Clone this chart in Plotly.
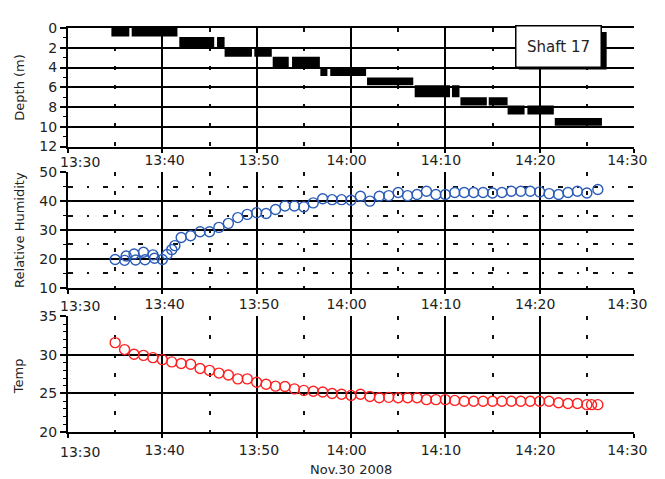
import plotly.graph_objects as go

DAY = "2008-11-30 "

# ---- depth record (black bars): time span and depth span (m) ----
depth_start = ["13:34:36", "13:36:45", "13:41:48", "13:45:48", "13:46:36", "13:49:45",
               "13:51:42", "13:53:45", "13:56:45", "13:57:48", "14:01:42", "14:06:45",
               "14:10:42", "14:11:36", "14:14:36", "14:16:36", "14:18:42", "14:21:36"]
depth_end = ["13:36:30", "13:41:36", "13:45:30", "13:46:36", "13:49:30", "13:51:36",
             "13:53:24", "13:56:42", "13:57:30", "14:01:36", "14:06:36", "14:10:30",
             "14:11:30", "14:14:24", "14:16:36", "14:18:24", "14:21:30", "14:26:36"]
depth_top = [0, 0, 0.9, 0.9, 2.0, 2.0, 2.9, 2.9, 4.0, 4.0, 5.0, 5.8, 5.8, 7.0, 7.0, 7.85, 7.85, 9.1]
depth_bottom = [0.85, 0.85, 2.0, 2.0, 2.9, 2.9, 4.0, 4.0, 4.85, 4.85, 5.8, 7.0, 7.0, 7.85, 7.85, 8.75, 8.75, 9.9]

# ---- relative humidity ----
rh_time = ["13:35:00", "13:36:00", "13:36:10", "13:37:00", "13:37:10", "13:38:00", "13:38:10",
           "13:39:00", "13:39:10", "13:40:00", "13:40:30", "13:41:00", "13:41:20", "13:42:00",
           "13:43:00", "13:44:00", "13:45:00", "13:46:00", "13:47:00", "13:48:00", "13:49:00",
           "13:50:00", "13:51:00", "13:52:00", "13:53:00", "13:54:00", "13:55:00", "13:56:00",
           "13:57:00", "13:58:00", "13:59:00", "14:00:00", "14:01:00", "14:02:00", "14:03:00",
           "14:04:00", "14:05:00", "14:06:00", "14:07:00", "14:08:00", "14:09:00", "14:10:00",
           "14:11:00", "14:12:00", "14:13:00", "14:14:00", "14:15:00", "14:16:00", "14:17:00",
           "14:18:00", "14:19:00", "14:20:00", "14:21:00", "14:22:00", "14:23:00", "14:24:00",
           "14:25:00", "14:26:10"]
rh_value = [19.8, 19.5, 21.0, 21.7, 19.6, 22.3, 19.7,
            21.4, 20.2, 19.8, 21.5, 23.2, 24.6, 27.4,
            28.0, 29.4, 29.4, 30.9, 32.3, 34.3, 35.4,
            36.0, 35.7, 37.1, 38.3, 38.3, 38.0, 39.4,
            40.8, 40.5, 40.5, 40.3, 41.7, 40.0, 41.7,
            41.9, 43.0, 41.9, 42.3, 43.4, 42.3, 42.3,
            43.0, 43.0, 43.0, 43.0, 42.8, 43.0, 43.4,
            43.4, 43.4, 43.2, 42.6, 42.3, 43.0, 43.4,
            42.8, 44.0]

# ---- temperature ----
temp_time = ["13:35:00", "13:36:00", "13:37:00", "13:38:00", "13:39:00", "13:40:00", "13:41:00",
             "13:42:00", "13:43:00", "13:44:00", "13:45:00", "13:46:00", "13:47:00", "13:48:00",
             "13:49:00", "13:50:00", "13:51:00", "13:52:00", "13:53:00", "13:54:00", "13:55:00",
             "13:56:00", "13:57:00", "13:58:00", "13:59:00", "14:00:00", "14:01:00", "14:02:00",
             "14:03:00", "14:04:00", "14:05:00", "14:06:00", "14:07:00", "14:08:00", "14:09:00",
             "14:10:00", "14:11:00", "14:12:00", "14:13:00", "14:14:00", "14:15:00", "14:16:00",
             "14:17:00", "14:18:00", "14:19:00", "14:20:00", "14:21:00", "14:22:00", "14:23:00",
             "14:24:00", "14:25:00", "14:25:30", "14:26:10"]
temp_value = [31.6, 30.7, 30.1, 29.95, 29.65, 29.4, 29.1,
              28.9, 28.8, 28.25, 28.0, 27.65, 27.4, 26.9,
              26.9, 26.45, 26.2, 25.95, 25.9, 25.6, 25.4,
              25.3, 25.2, 25.0, 24.9, 24.75, 24.9, 24.6,
              24.45, 24.5, 24.45, 24.45, 24.45, 24.2, 24.2,
              24.2, 24.1, 24.0, 24.0, 24.0, 24.0, 24.0,
              24.0, 24.0, 24.0, 24.0, 24.0, 23.8, 23.7,
              23.7, 23.55, 23.55, 23.55]

# ---- axes ----
x_range = ["13:30", "14:30"]
x_ticks = ["13:30", "13:40", "13:50", "14:00", "14:10", "14:20", "14:30"]
depth_ticks = [0, 2, 4, 6, 8, 10, 12]
depth_range = [12, 0]
rh_ticks = [10, 20, 30, 40, 50]
rh_range = [10, 50]
temp_ticks = [20, 25, 30, 35]
temp_range = [20, 35]

FONT = "DejaVu Sans"
TXT = "#222222"
NB = "\u00a0"
# first label is drawn separately (left-aligned at the axis start); the rest get small nudges
x_tick_text = ["", NB + x_ticks[1], NB + x_ticks[2],
               x_ticks[3] + NB * 2, x_ticks[4] + NB * 2, x_ticks[5] + NB * 2,
               x_ticks[6] + NB * 3]

fig = go.Figure()

# depth rectangles
xs, ys = [], []
for s, e, t, b in zip(depth_start, depth_end, depth_top, depth_bottom):
    xs += [DAY + s, DAY + e, DAY + e, DAY + s, DAY + s, None]
    ys += [t, t, b, b, t, None]
fig.add_trace(go.Scatter(x=xs, y=ys, mode="lines", fill="toself", fillcolor="black",
                         line=dict(width=0, color="black"), xaxis="x", yaxis="y",
                         hoverinfo="skip", showlegend=False))

fig.add_trace(go.Scatter(x=[DAY + t for t in rh_time], y=rh_value, mode="markers",
                         marker=dict(symbol="circle-open", size=10, color="#2a5cb8",
                                     line=dict(width=1.4, color="#2a5cb8")),
                         xaxis="x2", yaxis="y2", showlegend=False))

fig.add_trace(go.Scatter(x=[DAY + t for t in temp_time], y=temp_value, mode="markers",
                         marker=dict(symbol="circle-open", size=10, color="#ff2020",
                                     line=dict(width=1.4, color="#ff2020")),
                         xaxis="x3", yaxis="y3", showlegend=False))


def xax(anchor, standoff, mirror=False):
    return dict(type="date", range=[DAY + x_range[0], DAY + x_range[1]],
                tickmode="array", tickvals=[DAY + t for t in x_ticks], ticktext=x_tick_text,
                showgrid=True, gridcolor="black", gridwidth=1.6,
                showline=True, linecolor="black", linewidth=2, mirror=mirror,
                ticks="outside", ticklen=4, tickwidth=1.6, tickcolor="black",
                minor=dict(dtick=300000, tick0=DAY + x_range[0], showgrid=True,
                           gridcolor="#111111", gridwidth=1.6,
                           griddash="4px,15px", ticks=""),
                anchor=anchor, domain=[0, 1], zeroline=False, ticklabeloverflow="allow",
                ticklabelstandoff=standoff,
                tickfont=dict(family=FONT, size=14, color=TXT))


def yax(domain, rng, ticks, minor_dtick, anchor, minor_grid=False):
    d = dict(domain=domain, range=rng, tickmode="array", tickvals=ticks,
             showgrid=True, gridcolor="black", gridwidth=1.6,
             showline=True, linecolor="black", linewidth=2,
             ticks="outside", ticklen=6, tickwidth=1.6, tickcolor="black",
             anchor=anchor, zeroline=False,
             tickfont=dict(family=FONT, size=14, color=TXT))
    m = dict(dtick=minor_dtick, tick0=0, ticks="outside", ticklen=3, tickwidth=1.4,
             tickcolor="black", showgrid=minor_grid)
    if minor_grid:
        m.update(gridcolor="#111111", gridwidth=1.5, griddash="5px,14px,2px,14px")
    d["minor"] = m
    return d


domains = {"top": [0.7066, 1.0], "mid": [0.357, 0.643], "bot": [0.0, 0.286]}

# the page body has an 8px margin: margins are set so the plot areas land where intended
fig.update_layout(
    width=665, height=479,
    margin=dict(l=60, r=25, t=15, b=55),
    paper_bgcolor="white", plot_bgcolor="white",
    font=dict(family=FONT, size=14, color=TXT),
    xaxis=xax("y", -4, mirror=True), xaxis2=xax("y2", -2), xaxis3=xax("y3", 0),
    yaxis=yax(domains["top"], depth_range, depth_ticks, 1, "x"),
    yaxis2=yax(domains["mid"], rh_range, rh_ticks, 5, "x2", minor_grid=True),
    yaxis3=yax(domains["bot"], temp_range, temp_ticks, 1, "x3"),
)

# first time label of each panel, left-aligned at the axis start
for xr, dom, shift in [("x", domains["top"], -15), ("x2", domains["mid"], -18),
                       ("x3", domains["bot"], -20)]:
    fig.add_annotation(text=x_ticks[0], xref=xr, yref="paper", x=DAY + x_range[0], y=dom[0],
                       xanchor="left", yanchor="middle", xshift=-10, yshift=shift,
                       showarrow=False, font=dict(family=FONT, size=14, color=TXT))

annos = [
    dict(text="Depth (m)", x=-0.086, y=0.853),
    dict(text="Relative Humidity", x=-0.086, y=0.501),
    dict(text="Temp", x=-0.086, y=0.139),
]
for a in annos:
    fig.add_annotation(xref="paper", yref="paper", showarrow=False, textangle=-90,
                       xanchor="center", yanchor="middle",
                       font=dict(family=FONT, size=13, color=TXT), **a)

fig.add_annotation(text="Nov.30 2008", xref="paper", yref="paper", x=0.5, y=-0.093,
                   showarrow=False, xanchor="center", yanchor="middle",
                   font=dict(family=FONT, size=13, color=TXT))

# label box with drop shadow
fig.add_shape(type="rect", xref="paper", yref="paper", x0=0.7966, x1=0.9517,
              y0=0.8973, y1=0.9902, fillcolor="black", line=dict(width=0), layer="above")
fig.add_annotation(text="Shaft 17", xref="paper", yref="paper", x=0.8664, y=0.9535,
                   showarrow=False, xanchor="center", yanchor="middle",
                   width=76, height=32, borderpad=4, borderwidth=1.5, bordercolor="black",
                   bgcolor="white", font=dict(family=FONT, size=15, color=TXT))

fig.write_html("out.html")
